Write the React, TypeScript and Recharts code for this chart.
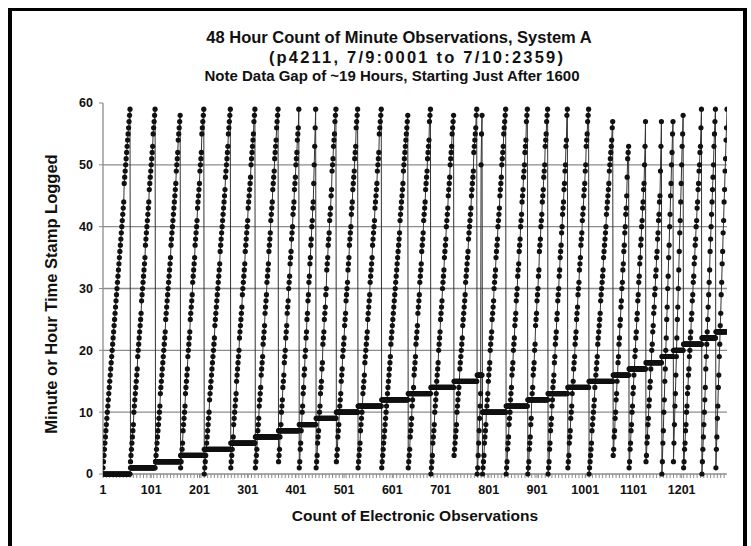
import React from "react";
import { LineChart, Line, XAxis, YAxis, ReferenceLine } from "recharts";

// Hour value of each logged hour-cycle (gap of ~19 h after hour 16)
const hourOfCycle = [
  0, 1, 2, 3, 4, 5, 6, 7, 8, 9, 10, 11, 12, 13, 14, 15, 16,
  10, 11, 12, 13, 14, 15, 16, 17, 18, 19, 20, 21, 22, 23,
];

// Minutes logged within each hour-cycle (ranges "a-b" or single values)
const minutesOfCycle = [
  "1-44,47-59",
  "2-8,10-17,19-26,28-35,37-44,46-53,55-59",
  "2-11,13-23,25-35,37-47,49-52,54-58",
  "1-5,7-11,13-17,19-23,25-29,31-35,37-41,43-47,49-52,55-59",
  "0-10,12-22,24-34,36-46,48-53,55-59",
  "1-6,8-13,15-20,22-27,29-34,36-41,43-48,50-55,57-59",
  "1-4,6-9,11-14,16-19,21-24,26-29,31-34,36-39,41-44,46-49,51-54,56-59",
  "2-4,6-8,10-12,14-16,18-20,22-24,26-28,30-32,34-36,38-40,42-44,46-48,50-52,54-56,59",
  "1-2,4-5,7-8,10-11,13-14,16-17,19-20,22-23,25-26,28-29,31-32,34-35,37-38,40-41,43-44,47,50,53,56,59",
  "1-3,5-7,9-11,13-15,17-18,21-23,25-27,29-30,33-35,37-39,41-43,45-46,49-51,53-55,57-59",
  "2-4,6-8,10-13,15-17,19-22,24-26,28-31,33-35,37-40,42-44,46-49,51-53,56-59",
  "1-5,7-11,13-16,18-23,25-29,31-35,37-41,43-47,49-52,55-59",
  "1-19,21-39,41-47,49-58",
  "1-4,6-9,11-14,16-19,21-24,26-29,31-34,36-39,41-44,46-49,51-54,57-59",
  "0-3,5-8,10-13,15-18,20-23,25-28,30-33,35-38,40-43,45-48,50-53,55-58",
  "3-8,10-15,17-22,24-29,31-36,38-43,45-49,52-56,58-59",
  "0,1,3,5,7,9,11,13,50,55,58",
  "0-3,5-8,10-13,15-18,20-23,25-28,30-33,35-38,40-43,45-48,50-53,55-59",
  "0-2,4-6,8-10,12-14,16-18,20-22,24-26,28-30,32-34,36-38,40-42,44-46,48-50,52-54,57-59",
  "0-2,4-6,8-9,12-14,16-18,20-21,24-26,28-30,32-33,36-38,40-42,44-46,48-50,53-55,57-59",
  "0-2,4-5,7-9,11-12,14-16,18-19,21-23,25-26,28-30,32-33,35-37,39-40,42-44,46-47,49-50,53-54,58-59",
  "1-3,5-7,9-11,13-15,17-19,21-23,25-27,29-31,33-35,37-39,41-43,45-47,49-50,53-55,57-59",
  "0-5,7-12,14-19,21-26,28-33,35-40,42-47,49-54,56-57",
  "3-4,6-7,9-10,12-13,15-16,18-19,21-22,24-25,27-28,30-31,33-34,36-37,39-40,42-43,45,48,51-53",
  "1-2,4-5,7-8,10-11,13-14,16-17,19-20,22-23,25-26,28-29,31-32,34-35,37-38,40-41,43-44,46-47,50,53,57",
  "2-3,5-6,8-9,11-12,14-15,17-18,20-21,23-24,26-27,29-30,32-33,35-36,38-39,41-42,44-45,49,53,57",
  "0,2,5,7,10,12,15,17,20,22,25,27,30,32,35,37,40,42,45,47,50,52,55,57",
  "2,5,8,11,13,16,19,22,25,27,30,33,36,39,41,44,47,50,53,55,58",
  "1-2,4-5,7-8,10-11,13-14,16-17,19-20,22-23,25-26,28-29,31-32,34-35,37-38,40-41,43-44,46-47,49-50,52-53,56,59",
  "0,2,4,6,8,10,12,14,17,19,21,23,25,27,29,31,33,36,38,40,42,44,46,48,50,53,55,57,59",
  "1,4,6,9,11,14,16,19,21,24,26,29,31,34,36,39,41,44,46,49,51,54,56,59",
];

const xTickLabels = [1, 101, 201, 301, 401, 501, 601, 701, 801, 901, 1001, 1101, 1201];
const yTicks = [0, 10, 20, 30, 40, 50, 60];
const gridValues = [10, 20, 30, 40, 50];

const titleLines = [
  "48 Hour Count of Minute Observations, System A",
  "(p4211, 7/9:0001 to 7/10:2359)",
  "Note Data Gap of ~19 Hours, Starting Just After 1600",
];
const xTitle = "Count of Electronic Observations";
const yTitle = "Minute or Hour Time Stamp Logged";

function parseRuns(s: string): number[] {
  const out: number[] = [];
  s.split(",").forEach((part) => {
    const [a, b] = part.split("-").map(Number);
    if (b === undefined || isNaN(b)) out.push(a);
    else for (let m = a; m <= b; m++) out.push(m);
  });
  return out;
}

const data: { obs: number; minute: number; hour: number }[] = [];
{
  let idx = 1;
  minutesOfCycle.forEach((s, c) => {
    parseRuns(s).forEach((m) => {
      data.push({ obs: idx++, minute: m, hour: hourOfCycle[c] });
    });
  });
}
const lastObs = data.length;

const minorStep = 7;
const allXTicks: number[] = (() => {
  const set = new Set<number>(xTickLabels);
  for (let v = 1; v <= lastObs; v += minorStep) set.add(v);
  return Array.from(set).sort((a, b) => a - b);
})();
const labelSet = new Set(xTickLabels);

const FONT = '"Liberation Sans", Arial, Helvetica, sans-serif';
const GRID = "#8c8c8c";

const XTick = (props: any) => {
  const { x, y, payload } = props;
  if (!labelSet.has(payload.value)) return <g />;
  return (
    <text x={x} y={y} dy={14} textAnchor="middle" fontFamily={FONT} fontWeight="bold" fontSize={12.5} fill="#111">
      {payload.value}
    </text>
  );
};

export default function App() {
  const W = 751;
  const H = 546;
  return (
    <div style={{ position: "absolute", left: 0, top: 0, width: W, height: H, background: "#fff", overflow: "hidden", fontFamily: FONT }}>
      <div
        style={{
          position: "absolute",
          left: 8,
          top: 8,
          width: 739,
          height: 620,
          borderLeft: "4px solid #000",
          borderTop: "3px solid #000",
          borderRight: "4px solid #000",
          boxSizing: "border-box",
        }}
      />
      <div style={{ position: "absolute", left: 0, width: 798, top: 27, textAlign: "center", fontWeight: "bold", fontSize: 16.5, lineHeight: "20px", color: "#111" }}>
        {titleLines[0]}
      </div>
      <div style={{ position: "absolute", left: 0, width: 834, top: 47, textAlign: "center", fontWeight: "bold", fontSize: 16.5, lineHeight: "20px", letterSpacing: 2.2, color: "#111" }}>
        {titleLines[1]}
      </div>
      <div style={{ position: "absolute", left: 0, width: 784, top: 66, textAlign: "center", fontWeight: "bold", fontSize: 15, lineHeight: "20px", color: "#111" }}>
        {titleLines[2]}
      </div>
      <div style={{ position: "absolute", left: 0, width: 830, top: 506, textAlign: "center", fontWeight: "bold", fontSize: 15.5, lineHeight: "20px", color: "#111" }}>
        {xTitle}
      </div>
      <div
        style={{
          position: "absolute",
          left: 51,
          top: 294,
          transform: "translate(-50%, -50%) rotate(-90deg)",
          whiteSpace: "nowrap",
          fontWeight: "bold",
          fontSize: 16.5,
          lineHeight: "20px",
          color: "#111",
        }}
      >
        {yTitle}
      </div>
      <div style={{ position: "absolute", left: 0, top: 0 }}>
        <LineChart width={W} height={H} data={data} margin={{ top: 103, right: 24, left: 63, bottom: 42 }}>
          {gridValues.map((v) => (
            <ReferenceLine key={v} y={v} stroke={GRID} strokeWidth={1.3} ifOverflow="extendDomain" />
          ))}
          <XAxis
            dataKey="obs"
            type="number"
            domain={[1, lastObs]}
            ticks={allXTicks}
            interval={0}
            tick={<XTick />}
            tickSize={4}
            tickLine={{ stroke: GRID }}
            axisLine={{ stroke: GRID, strokeWidth: 1.3 }}
            height={30}
            allowDataOverflow
          />
          <YAxis
            type="number"
            domain={[0, 60]}
            ticks={yTicks}
            interval={0}
            width={40}
            tickSize={4}
            tickMargin={6}
            tickLine={{ stroke: GRID }}
            axisLine={{ stroke: GRID, strokeWidth: 1.3 }}
            tick={{ fontFamily: FONT, fontWeight: "bold", fontSize: 12.5, fill: "#111" }}
          />
          <Line
            dataKey="minute"
            type="linear"
            stroke="#333"
            strokeWidth={1}
            dot={{ r: 2.6, fill: "#111", stroke: "none" }}
            activeDot={false}
            isAnimationActive={false}
          />
          <Line
            dataKey="hour"
            type="linear"
            stroke="#333"
            strokeWidth={1}
            dot={{ r: 2.6, fill: "#111", stroke: "none" }}
            activeDot={false}
            isAnimationActive={false}
          />
        </LineChart>
      </div>
    </div>
  );
}
